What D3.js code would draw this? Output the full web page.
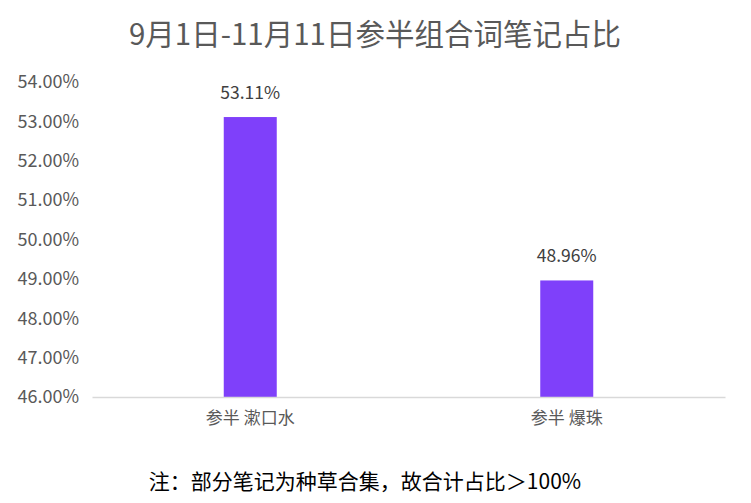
<!DOCTYPE html>
<html><head><meta charset="utf-8">
<script src="https://cdn.jsdelivr.net/npm/d3@7"></script>
<style>
html,body{margin:0;padding:0;background:#fff;}
svg{display:block;font-family:"Noto Sans CJK SC","Noto Sans",sans-serif;}
</style></head>
<body>
<svg id="chart" width="751" height="503"></svg>
<script>
const title = "9月1日-11月11日参半组合词笔记占比";
const categories = ["参半 漱口水", "参半 爆珠"];
const values = [53.11, 48.96];
const yTicks = [46, 47, 48, 49, 50, 51, 52, 53, 54];
const footnote = "注：部分笔记为种草合集，故合计占比＞100%";

const svg = d3.select("#chart");
const W = 751, H = 503;
const m = {left: 92, right: 26, top: 82, bottom: 106};
const x = d3.scaleBand().domain(categories).range([m.left, W - m.right]).paddingInner(0.833).paddingOuter(0.4165);
const y = d3.scaleLinear().domain([46, 54]).range([H - m.bottom, m.top]);

svg.append("text").attr("x", 375).attr("y", 32).attr("text-anchor", "middle")
  .attr("dominant-baseline", "central").attr("font-size", 29.5).attr("fill", "#595959").text(title);

// y axis labels
const yAxis = d3.axisLeft(y).tickValues(yTicks).tickSize(0).tickPadding(13)
  .tickFormat(d => d.toFixed(2) + "%");
const ga = svg.append("g").attr("transform", `translate(${m.left},0)`).call(yAxis);
ga.select(".domain").remove();
ga.selectAll("text").attr("font-size", 18).attr("fill", "#595959")
  .attr("font-family", "\"Noto Sans CJK SC\",sans-serif");

// bars
const bw = 53;
svg.selectAll("rect.bar").data(values).enter().append("rect")
  .attr("x", (d, i) => x(categories[i]) + x.bandwidth() / 2 - bw / 2)
  .attr("y", d => y(d)).attr("width", bw)
  .attr("height", d => y(46) - y(d)).attr("fill", "#7f40fa");

// value labels
svg.selectAll("text.val").data(values).enter().append("text")
  .attr("x", (d, i) => x(categories[i]) + x.bandwidth() / 2)
  .attr("y", d => y(d) - 26).attr("text-anchor", "middle").attr("dominant-baseline", "central")
  .attr("font-size", 17.5).attr("fill", "#404040").text(d => d.toFixed(2) + "%");

// x axis
const gx = svg.append("g").attr("transform", `translate(0,${y(46)})`)
  .call(d3.axisBottom(x).tickSize(0).tickPadding(15));
gx.select(".domain").attr("stroke", "#d9d9d9").attr("stroke-width", 1.5);
gx.selectAll("text").attr("font-size", 17).attr("fill", "#595959")
  .attr("font-family", "\"Noto Sans CJK SC\",sans-serif");

svg.append("text").attr("x", 365).attr("y", 480).attr("text-anchor", "middle")
  .attr("dominant-baseline", "central").attr("font-size", 21).attr("fill", "#000").text(footnote);
</script>
</body></html>
